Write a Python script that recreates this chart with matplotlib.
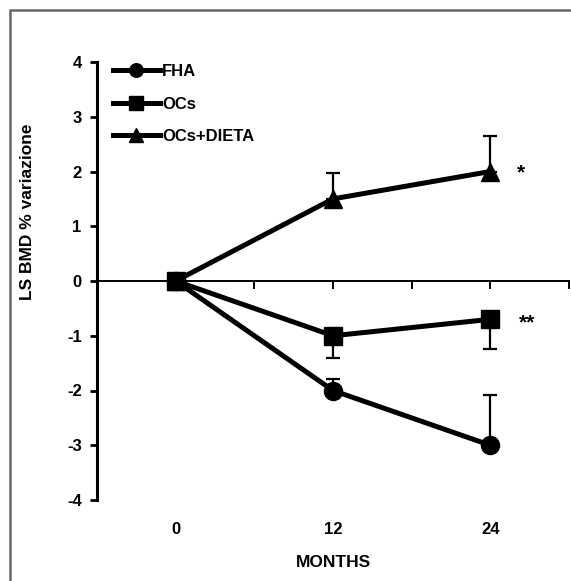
import matplotlib.pyplot as plt
from matplotlib.patches import Rectangle

plt.rcParams['font.family'] = ['Liberation Sans', 'DejaVu Sans']
plt.rcParams['font.weight'] = 'bold'
plt.rcParams['axes.unicode_minus'] = False

# data
months = [0, 12, 24]
fha = [0, -2.0, -3.0]
fha_err = [0, 0.21, 0.92]      # upward only
ocs = [0, -1.0, -0.7]
ocs_err = [0, 0.40, 0.55]      # downward only
dieta = [0, 1.5, 2.0]
dieta_err = [0, 0.48, 0.65]    # upward only
labels = ["FHA", "OCs", "OCs+DIETA"]
stars = ["*", "**"]
star_pos = [(26.3, 1.98), (26.8, -0.76)]

W, H = 571, 581
fig = plt.figure(figsize=(W / 100, H / 100), dpi=100)
ax = fig.add_axes([97 / W, (H - 500) / H, 472 / W, 438 / H])

# outer gray frame
fig.patches.append(Rectangle((9.5 / W, -0.1), 1.2, (H - 9.5) / H + 0.1,
                             transform=fig.transFigure, fill=False,
                             edgecolor='#666666', linewidth=1.8))

lw = 3.6
ax.errorbar(months, fha, yerr=[[0, 0, 0], fha_err], fmt='none',
            ecolor='black', elinewidth=1.6, capsize=5, capthick=1.6, zorder=2)
ax.errorbar(months, ocs, yerr=[ocs_err, [0, 0, 0]], fmt='none',
            ecolor='black', elinewidth=1.6, capsize=5, capthick=1.6, zorder=2)
ax.errorbar(months, dieta, yerr=[[0, 0, 0], dieta_err], fmt='none',
            ecolor='black', elinewidth=1.6, capsize=5, capthick=1.6, zorder=2)

ax.plot(months, fha, '-o', color='black', lw=lw, ms=13, label=labels[0], zorder=3)
ax.plot(months, dieta, '-^', color='black', lw=lw, ms=13, label=labels[2], zorder=3)
ax.plot(months, ocs, '-s', color='black', lw=lw, ms=13, label=labels[1], zorder=4)

for s, (sx, sy) in zip(stars, star_pos):
    ax.text(sx, sy, s, ha='center', va='center', fontsize=15, fontweight='bold')

ax.set_xlim(-6, 30)
ax.set_ylim(-4, 4)

ax.spines['top'].set_visible(False)
ax.spines['right'].set_visible(False)
ax.spines['left'].set_linewidth(2.2)
ax.spines['bottom'].set_position(('data', 0))
ax.spines['bottom'].set_linewidth(1.4)

ax.set_xticks([0, 6, 12, 18, 24, 30])
ax.tick_params(axis='x', direction='out', length=6, width=1.4, labelbottom=False)
ax.set_yticks(range(-4, 5))
ax.tick_params(axis='y', direction='out', length=5, width=2, labelsize=12, pad=6)
for t in ax.get_yticklabels():
    t.set_fontweight('bold')

trans = ax.get_xaxis_transform()
for m in months:
    ax.text(m, -0.068, str(m), transform=trans, ha='center', va='center',
            fontsize=12, fontweight='bold')
ax.text(12, -0.143, "MONTHS", transform=trans, ha='center', va='center',
        fontsize=12.5, fontweight='bold')

fig.text(28 / W, (H - 212) / H, "LS BMD % variazione", rotation=90,
         ha='center', va='center', fontsize=12.5, fontweight='bold')

handles, labs = ax.get_legend_handles_labels()
order = [labs.index(l) for l in labels]
ax.legend([handles[i] for i in order], [labs[i] for i in order],
          loc='upper left', bbox_to_anchor=(0.034, 0.995), frameon=False,
          borderpad=0, borderaxespad=0, handlelength=2.8, handletextpad=0.15,
          labelspacing=1.05, prop={'weight': 'bold', 'size': 12}, markerscale=0.75)

fig.savefig("out.png", dpi=100)
